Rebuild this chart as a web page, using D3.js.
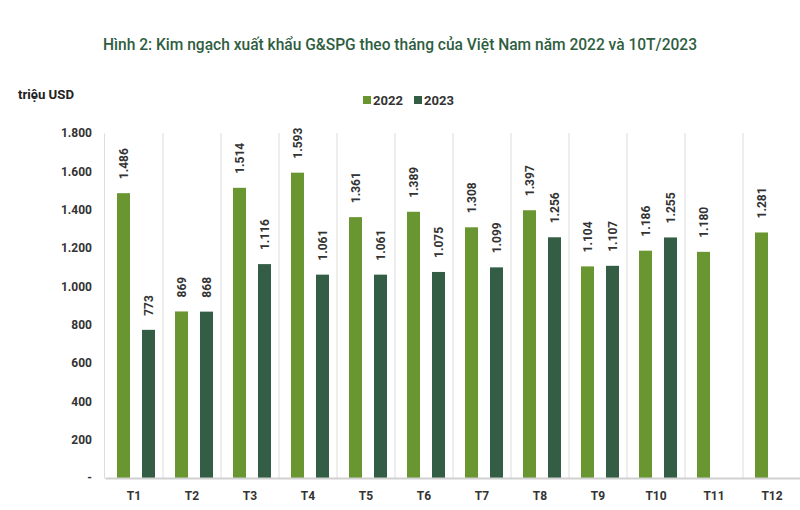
<!DOCTYPE html>
<html><head><meta charset="utf-8">
<script src="https://cdn.jsdelivr.net/npm/d3@7"></script>
<style>body{margin:0;background:#fff}svg{display:block}</style>
</head><body>
<script>
const months = ["T1","T2","T3","T4","T5","T6","T7","T8","T9","T10","T11","T12"];
const seriesNames = ["2022","2023"];
const values2022 = [1486, 869, 1514, 1593, 1361, 1389, 1308, 1397, 1104, 1186, 1180, 1281];
const values2023 = [773, 868, 1116, 1061, 1061, 1075, 1099, 1256, 1107, 1255, null, null];
const yTicks = [0, 200, 400, 600, 800, 1000, 1200, 1400, 1600, 1800];
const colors = ["#6a9631", "#335e45"];

const W = 800, H = 510;
const svg = d3.select("body").append("svg").attr("width", W).attr("height", H);

const x = d3.scaleBand().domain(months).range([105, 801]).paddingInner(0).paddingOuter(0);
const xs = d3.scaleBand().domain(seriesNames).range([12, 50]).paddingInner(0.48).paddingOuter(0);
const y = d3.scaleLinear().domain([0, 1800]).range([478, 133]);
const fmt = v => v === 0 ? "-" : d3.format(",")(v).replace(/,/g, ".");

// title
svg.append("text").attr("x", 400).attr("y", 50).attr("text-anchor", "middle")
  .attr("font-family", "Roboto, sans-serif").attr("font-size", 16).attr("font-weight", 500)
  .attr("fill", "#2f5e3f").attr("textLength", 594).attr("lengthAdjust", "spacingAndGlyphs")
  .text("Hình 2: Kim ngạch xuất khẩu G&SPG theo tháng của Việt Nam năm 2022 và 10T/2023");

svg.append("text").attr("x", 18).attr("y", 99)
  .attr("font-family", "Roboto, sans-serif").attr("font-size", 12).attr("font-weight", 700)
  .attr("fill", "#222").attr("textLength", 56).attr("lengthAdjust", "spacingAndGlyphs").text("triệu USD");

// legend
const leg = svg.append("g").attr("font-family", "Roboto, sans-serif").attr("font-size", 12.5).attr("font-weight", 700);
[[363, 0], [414, 1]].forEach(([lx, i]) => {
  leg.append("rect").attr("x", lx).attr("y", 96).attr("width", 8).attr("height", 8).attr("fill", colors[i]);
  leg.append("text").attr("x", lx + 10).attr("y", 105).attr("fill", "#333")
    .attr("textLength", 30).attr("lengthAdjust", "spacingAndGlyphs").text(seriesNames[i]);
});

// vertical separators
const seps = months.map((m, i) => x(m) + x.bandwidth()).slice(0, 11);
svg.append("g").selectAll("line").data(seps).join("line")
  .attr("x1", d => d).attr("x2", d => d).attr("y1", 133).attr("y2", 478)
  .attr("stroke", "#dcdcdc").attr("stroke-width", 1);

// y axis
const yAxis = d3.axisLeft(y).tickValues(yTicks).tickFormat(fmt).tickSize(0).tickPadding(12);
const ya = svg.append("g").attr("transform", "translate(104,0)").call(yAxis);
ya.select(".domain").attr("stroke", "#dcdcdc");
ya.selectAll("text").attr("font-family", "Roboto, sans-serif").attr("font-size", 12)
  .attr("font-weight", 700).attr("fill", "#333");

// bars
const data = [];
months.forEach((m, i) => {
  [values2022[i], values2023[i]].forEach((v, j) => { if (v != null) data.push({ m, s: seriesNames[j], j, v }); });
});
svg.append("g").selectAll("rect").data(data).join("rect")
  .attr("x", d => x(d.m) + xs(d.s)).attr("width", xs.bandwidth())
  .attr("y", d => y(d.v)).attr("height", d => y(0) - y(d.v))
  .attr("fill", d => colors[d.j]);

// labels
svg.append("g").selectAll("text").data(data).join("text")
  .attr("transform", d => `translate(${x(d.m) + xs(d.s) + xs.bandwidth() / 2 + 4},${y(d.v) - 14}) rotate(-90)`)
  .attr("font-family", "Roboto, sans-serif").attr("font-size", 12).attr("font-weight", 700)
  .attr("fill", "#333").text(d => fmt(d.v));

// x axis
const xAxis = d3.axisBottom(x).tickSize(0).tickPadding(13);
const xa = svg.append("g").attr("transform", "translate(0,478)").call(xAxis);
xa.select(".domain").attr("stroke", "#d0d0d0").attr("stroke-width", 2);
xa.selectAll("text").attr("font-family", "Roboto, sans-serif").attr("font-size", 12)
  .attr("font-weight", 700).attr("fill", "#333");
</script>
</body></html>
